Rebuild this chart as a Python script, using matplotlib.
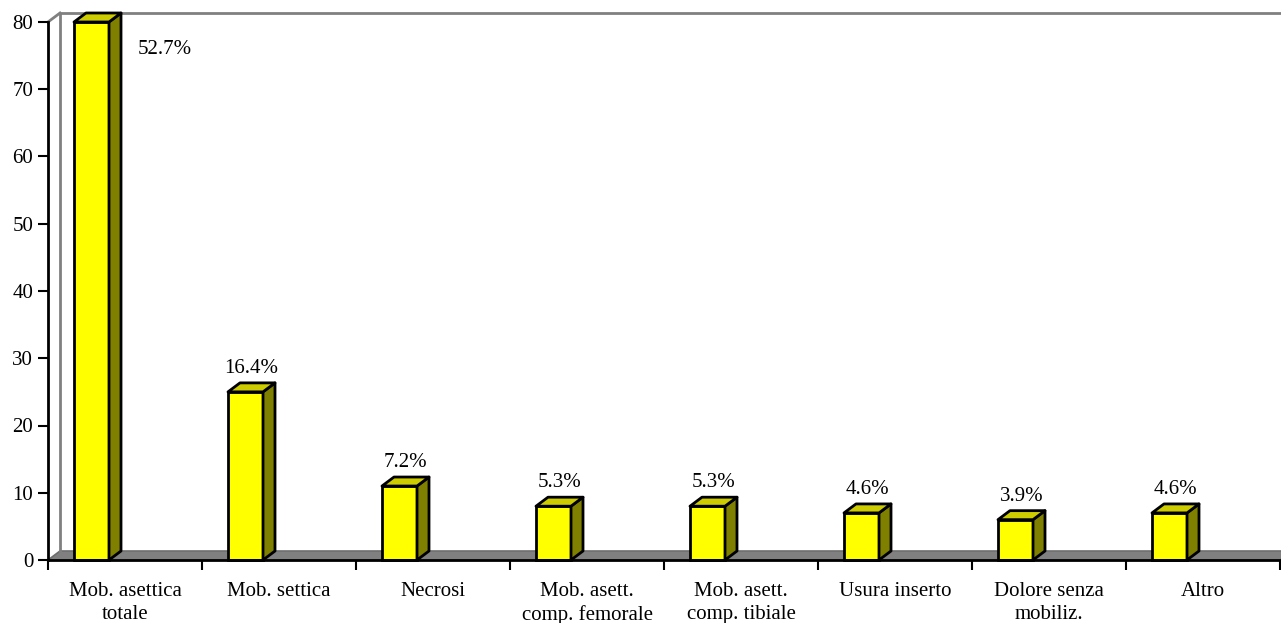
import matplotlib
matplotlib.use("Agg")
import matplotlib.pyplot as plt
from matplotlib.patches import Polygon
import numpy as np

# data
categories = ["Mob. asettica\ntotale", "Mob. settica", "Necrosi",
              "Mob. asett.\ncomp. femorale", "Mob. asett.\ncomp. tibiale",
              "Usura inserto", "Dolore senza\nmobiliz.", "Altro"]
counts = [80, 25, 11, 8, 8, 7, 6, 7]
pct_labels = ["52.7%", "16.4%", "7.2%", "5.3%", "5.3%", "4.6%", "3.9%", "4.6%"]
y_ticks = [0, 10, 20, 30, 40, 50, 60, 70, 80]

FRONT = "#ffff00"
SIDE = "#808000"
TOP = "#cccc00"
WALL = "#808080"
FS = 15

plt.rcParams['font.family'] = ['Liberation Serif', 'DejaVu Serif']

fig = plt.figure(figsize=(12.81, 6.23), dpi=100)
ax = fig.add_axes([48 / 1281, 63 / 623, 1232 / 1281, 538 / 623])
n = len(categories)
ax.set_xlim(0, n)
ax.set_ylim(0, 80)

# pixel sizes -> data units
px_x = n / 1232.0
px_y = 80 / 538.0
dx = 12 * px_x
dy = 9 * px_y
bar_off = 26 * px_x
bar_w = 35 * px_x

# floor
floor = Polygon([(0, 0), (n, 0), (n + dx, dy), (dx, dy)], closed=True,
                facecolor=WALL, edgecolor="#6e6e6e", lw=1.2, clip_on=False, zorder=1)
ax.add_patch(floor)
# back wall edges
ax.plot([dx, dx, n + dx], [dy, 80 + dy, 80 + dy], color=WALL, lw=2, clip_on=False, zorder=1)
ax.plot([0, dx], [80, 80 + dy], color=WALL, lw=2, clip_on=False, zorder=1)

x_left = np.arange(n) + bar_off
ax.bar(x_left, counts, width=bar_w, align="edge", color=FRONT,
       edgecolor="black", linewidth=2, zorder=3, clip_on=False)

for xl, v in zip(x_left, counts):
    xr = xl + bar_w
    side = Polygon([(xr, 0), (xr + dx, dy), (xr + dx, v + dy), (xr, v)], closed=True,
                   facecolor=SIDE, edgecolor="black", lw=2, joinstyle="round",
                   clip_on=False, zorder=3)
    top = Polygon([(xl, v), (xr, v), (xr + dx, v + dy), (xl + dx, v + dy)], closed=True,
                  facecolor=TOP, edgecolor="black", lw=2, joinstyle="round",
                  clip_on=False, zorder=3)
    ax.add_patch(side)
    ax.add_patch(top)

# percentage labels
for i, (xl, v, lab) in enumerate(zip(x_left, counts, pct_labels)):
    if v >= 70:
        ax.annotate(lab, xy=(xl + bar_w + dx, v), xytext=(17 * 0.72, -27 * 0.72),
                    textcoords="offset points", ha="left", va="center",
                    fontsize=FS, clip_on=False)
    else:
        ax.annotate(lab, xy=(xl + bar_w / 2 + dx / 2, v + dy), xytext=(0, 14.5 * 0.72),
                    textcoords="offset points", ha="center", va="center",
                    fontsize=FS)

# axes styling
for s in ["top", "right"]:
    ax.spines[s].set_visible(False)
ax.spines["left"].set_linewidth(2)
ax.spines["bottom"].set_linewidth(2)
ax.spines["left"].set_zorder(4)
ax.spines["bottom"].set_zorder(4)

ax.set_yticks(y_ticks)
ax.tick_params(axis="y", length=7.2, width=1.5, pad=3.5, labelsize=FS)
ax.set_xticks(np.arange(n + 1))
ax.set_xticklabels([])
ax.set_xticks(np.arange(n) + 0.5, minor=True)
ax.set_xticklabels(categories, minor=True, fontsize=FS, linespacing=1.3)
ax.tick_params(axis="x", which="major", length=7.2, width=1.5)
ax.tick_params(axis="x", which="minor", length=0, pad=15.5)

fig.savefig("out.png", dpi=100)
